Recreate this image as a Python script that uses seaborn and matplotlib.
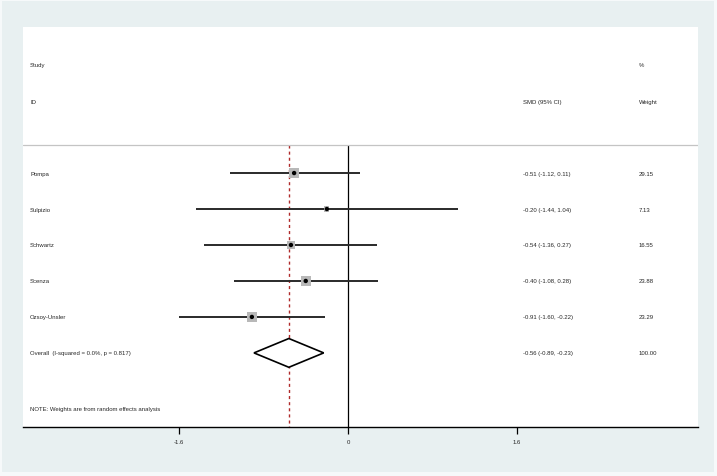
import numpy as np
import pandas as pd
import seaborn as sns
import matplotlib.pyplot as plt
from matplotlib.patches import Rectangle

studies = ['Pompa', 'Sulpizio', 'Schwartz', 'Scenza', 'Ozsoy-Unsler']
smd = [-0.51, -0.20, -0.54, -0.40, -0.91]
ci_low = [-1.12, -1.44, -1.36, -1.08, -1.60]
ci_high = [0.11, 1.04, 0.27, 0.28, -0.22]
weights = [29.15, 7.13, 16.55, 23.88, 23.29]
overall = [-0.56, -0.89, -0.23]  # estimate, lower, upper
overall_label = 'Overall  (I-squared = 0.0%, p = 0.817)'
tick_vals = [-1.6, 0, 1.6]
tick_labels = ['-1.6', '0', '1.6']

df = pd.DataFrame({'study': studies, 'smd': smd, 'lo': ci_low,
                   'hi': ci_high, 'w': weights})
df['row'] = np.arange(1, len(df) + 1)

sns.set_style('white')
plt.rcParams['font.family'] = ['Liberation Sans', 'DejaVu Sans']
fs = 4.3

fig = plt.figure(figsize=(7.17, 4.77), dpi=100, facecolor='#f6f9fa')
# bluish graph region, slightly inset from the image edge
fig.patches.append(Rectangle((2 / 717, 4 / 477), 712 / 717, 471 / 477,
                             transform=fig.transFigure, facecolor='#e8f0f1',
                             edgecolor='none', zorder=-10))
ax = fig.add_axes([23 / 717, 1 - 428 / 477, 675 / 717, 400 / 477])
ax.set_facecolor('white')

# reference lines
sep_y = 0.22
ax.vlines(0, sep_y, 8.06, color='black', lw=0.9)
ax.vlines(overall[0], sep_y, 8.06, color='#b02a2a', lw=1.0, linestyles=(0, (2.2, 2.2)))
ax.axhline(sep_y, color='#c4c4c4', lw=0.9)

# confidence intervals
ax.hlines(df['row'], df['lo'], df['hi'], color='#2a2a2a', lw=1.4, zorder=2)

# weight squares and point estimates
sns.scatterplot(data=df, x='smd', y='row', marker='s', s=df['w'] * 2.0,
                color='#b8b8b8', edgecolor='none', ax=ax, zorder=3, legend=False)
sns.scatterplot(data=df, x='smd', y='row', marker='o', s=10,
                color='black', edgecolor='none', ax=ax, zorder=4, legend=False)

# overall diamond
oy = len(df) + 1
h = 0.4
ax.fill([overall[1], overall[0], overall[2], overall[0]],
        [oy, oy - h, oy, oy + h], facecolor='white', edgecolor='black',
        lw=1.2, zorder=3)

# text columns
tr = ax.get_yaxis_transform()
ax.text(0.0104, -2.03, 'Study', transform=tr, fontsize=fs, va='center')
ax.text(0.0104, -1.0, 'ID', transform=tr, fontsize=fs, va='center')
ax.text(0.7407, -1.0, 'SMD (95% CI)', transform=tr, fontsize=fs, va='center')
ax.text(0.9126, -2.03, '%', transform=tr, fontsize=fs, va='center')
ax.text(0.9126, -1.0, 'Weight', transform=tr, fontsize=fs, va='center')

for _, r in df.iterrows():
    ax.text(0.0104, r['row'], r['study'], transform=tr, fontsize=fs, va='center')
    ax.text(0.7407, r['row'], f"{r['smd']:.2f} ({r['lo']:.2f}, {r['hi']:.2f})",
            transform=tr, fontsize=fs, va='center')
    ax.text(0.9126, r['row'], f"{r['w']:.2f}", transform=tr, fontsize=fs, va='center')

ax.text(0.0104, oy, overall_label, transform=tr, fontsize=fs, va='center')
ax.text(0.7407, oy, f"{overall[0]:.2f} ({overall[1]:.2f}, {overall[2]:.2f})",
        transform=tr, fontsize=fs, va='center')
ax.text(0.9126, oy, f"{sum(weights):.2f}", transform=tr, fontsize=fs, va='center')
ax.text(0.0104, 7.55, 'NOTE: Weights are from random effects analysis',
        transform=tr, fontsize=fs, va='center')

ax.set_xlim(-3.077, 3.314)
ax.set_ylim(8.06, -3.06)
ax.set_xticks(tick_vals)
ax.set_xticklabels(tick_labels, fontsize=fs)
ax.set_yticks([])
ax.set_xlabel('')
ax.set_ylabel('')
ax.tick_params(axis='x', direction='out', length=5, width=0.9, pad=4,
               color='black', bottom=True)
for side in ['top', 'left', 'right']:
    ax.spines[side].set_visible(False)
ax.spines['bottom'].set_color('black')
ax.spines['bottom'].set_linewidth(1.0)

plt.savefig('out.png', dpi=100, facecolor=fig.get_facecolor())
